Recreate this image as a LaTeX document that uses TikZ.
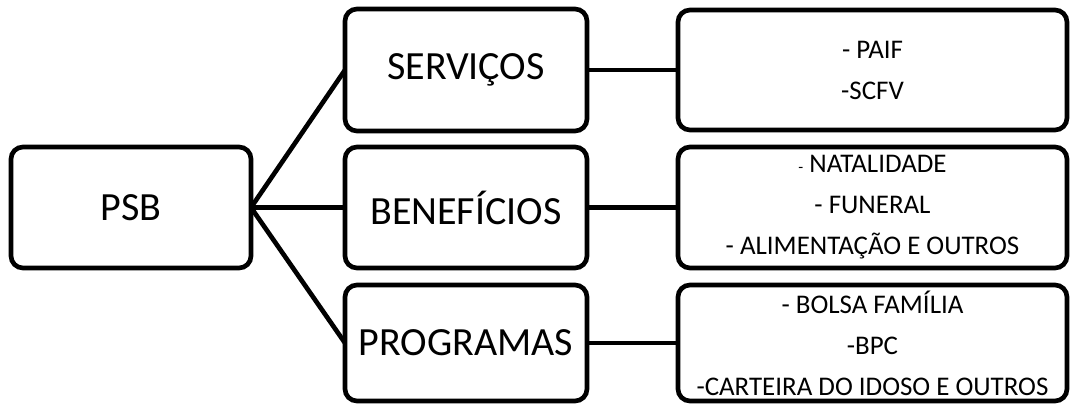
\documentclass[tikz,border=0pt]{standalone}
\usepackage{fontspec}
\setmainfont{Carlito}
\usetikzlibrary{positioning}

\begin{document}
\begin{tikzpicture}[x=0.75pt,y=0.75pt,yscale=-1,xscale=1]
	\tikzset{
		cajabox/.style={draw, line width=3.5pt, rounded corners=9pt, align=center, inner sep=0pt, outer sep=0pt},
		linkline/.style={line width=3.5pt},
		bigtext/.style={font=\fontsize{30}{35}\selectfont},
		listtext/.style={font=\fontsize{20.2}{30.75}\selectfont}
	}
	\useasboundingbox (0,0) rectangle (1073,403);

	%Main box
	\node [cajabox, bigtext, minimum width=180pt, minimum height=90.75pt] (psb) at (131,207.5) {PSB};

	%Middle column
	\node [cajabox, bigtext, minimum width=181.5pt, minimum height=91.5pt] (servicos) at (466,70) {SERVIÇOS};
	\node [cajabox, bigtext, minimum width=181.5pt, minimum height=90.75pt] (beneficios) at (466,207.5) {BENEFÍCIOS};
	\node [cajabox, bigtext, minimum width=181.5pt, minimum height=87pt] (programas) at (466,343) {PROGRAMAS};

	%Right column
	\node [cajabox, listtext, minimum width=291.75pt, minimum height=90pt] (servlist) at (872.5,70) {- PAIF\\-SCFV};
	\node [cajabox, listtext, minimum width=291.75pt, minimum height=90.75pt] (benelist) at (872.5,207.5) {{\fontsize{12}{14}\selectfont -} NATALIDADE\\- FUNERAL\\- ALIMENTAÇÃO E OUTROS};
	\node [cajabox, listtext, minimum width=291.75pt, minimum height=87pt] (proglist) at (872.5,343) {- BOLSA FAMÍLIA\\-BPC\\-CARTEIRA DO IDOSO E OUTROS};

	%Connectors
	\draw [linkline] (psb.east) -- (servicos.west);
	\draw [linkline] (psb.east) -- (beneficios.west);
	\draw [linkline] (psb.east) -- (programas.west);
	\draw [linkline] (servicos.east) -- (servlist.west);
	\draw [linkline] (beneficios.east) -- (benelist.west);
	\draw [linkline] (programas.east) -- (proglist.west);

\end{tikzpicture}
\end{document}
